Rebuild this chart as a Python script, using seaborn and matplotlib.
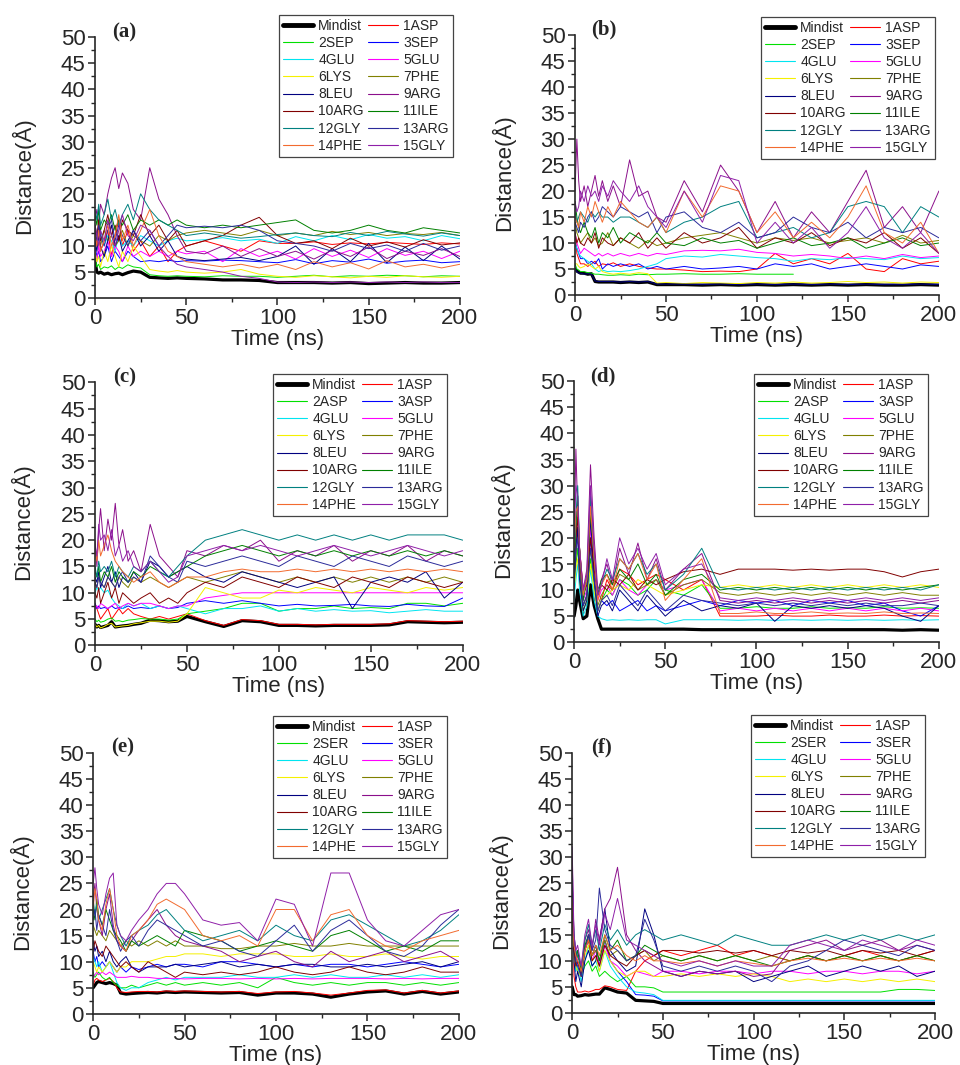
import numpy as np
import pandas as pd
import matplotlib
matplotlib.use("Agg")
import matplotlib.pyplot as plt
from matplotlib.lines import Line2D
from matplotlib.ticker import MultipleLocator
import seaborn as sns

nan = np.nan

# time grid (ns) the values below were read at
time_ns = [0, 1, 2, 3, 5, 7, 9, 11, 13, 15, 18, 21, 25, 30, 35, 40, 45, 50,
           60, 70, 80, 90, 100, 110, 120, 130, 140, 150, 160, 170, 180, 190, 200]

names_sep = ["Mindist", "1ASP", "2SEP", "3SEP", "4GLU", "5GLU", "6LYS", "7PHE",
             "8LEU", "9ARG", "10ARG", "11ILE", "12GLY", "13ARG", "14PHE", "15GLY"]
names_asp = ["Mindist", "1ASP", "2ASP", "3ASP", "4GLU", "5GLU", "6LYS", "7PHE",
             "8LEU", "9ARG", "10ARG", "11ILE", "12GLY", "13ARG", "14PHE", "15GLY"]
names_ser = ["Mindist", "1ASP", "2SER", "3SER", "4GLU", "5GLU", "6LYS", "7PHE",
             "8LEU", "9ARG", "10ARG", "11ILE", "12GLY", "13ARG", "14PHE", "15GLY"]

# Origin-like colour list (black, red, green, blue, cyan, magenta, yellow, dark yellow,
# navy, purple, wine, olive, dark cyan, royal, orange, violet)
line_colors = ["#000000", "#FF0000", "#00E000", "#0000FF", "#00E5F0", "#FF00FF",
               "#F5F000", "#808000", "#000080", "#8B0F8B", "#800000", "#008000",
               "#008080", "#2B2B9A", "#F26B2F", "#8F1FA8"]

# panel (a)
dist_a = [
    [7, 5, 4.8, 5, 4.6, 4.8, 4.5, 4.7, 4.8, 4.5, 4.9, 5.2, 5.0, 4.0, 3.9, 3.8, 3.9, 3.8, 3.7, 3.5, 3.5, 3.4, 3.0, 3.0, 3.0, 2.9, 3.0, 2.8, 2.9, 3.0, 2.9, 2.9, 3.0],
    [12, 10, 14, 9, 11, 13, 8, 12, 15, 10, 13, 9, 11, 8, 10, 7, 9, 10, 11, 10, 9, 11, 10.5, 10.5, 10.8, 10.3, 10.6, 10.4, 10.7, 10.5, 10.3, 10.6, 10.4],
    [8, 6, 6.5, 5.5, 6, 5.8, 6.2, 5.5, 6, 5.7, 6.4, 6, 5.8, 4.5, 4.3, 4.2, 4.3, 4.2, 4.1, 4.3, 4.2, 4.2, 4.0, 4.2, 4.4, 4.1, 4.3, 4.2, 4.4, 4.3, 4.1, 4.3, 4.2],
    [10, 8, 9, 7, 8, 10, 7, 9, 8, 7, 9, 8, 7, 7.2, 7, 7.3, 7, 7.2, 7.1, 7.3, 7.2, 7, 6.8, 7.4, 6.6, 7.2, 6.9, 7.5, 6.7, 7.1, 7.3, 6.8, 7],
    [14, 12, 11, 13, 10, 12, 11, 9, 12, 10, 11, 10, 12, 11, 10, 11, 11.5, 11, 11.2, 11.6, 11, 11.3, 10.5, 11.8, 11, 12, 11.2, 12.2, 11.5, 11.8, 11, 12, 11.4],
    [9, 7, 10, 8, 9, 11, 8, 10, 9, 7, 10, 8, 9, 8, 9, 8, 9, 8.5, 9, 7, 9.5, 8, 9, 7.5, 9.5, 8, 9.2, 7.8, 9.5, 8.2, 9, 7.6, 9],
    [9, 7, 8, 6, 9, 7, 10, 8, 6, 9, 7, 10, 8, 5.5, 5.2, 5, 5.3, 5, 4.8, 5, 5.5, 4.6, 4.2, 4, 4.3, 4.1, 3.9, 4.2, 4, 4.3, 4.1, 4, 4.2],
    [13, 11, 12, 10, 13, 11, 12, 10, 11, 13, 10, 12, 11, 10, 12, 11, 12, 12.5, 13, 12.5, 12, 13, 12, 12.5, 12, 12.8, 12.2, 12.6, 12, 12.4, 12.2, 12.6, 12],
    [11, 9, 12, 10, 8, 11, 14, 10, 12, 9, 11, 13, 10, 12, 9, 11, 8, 7.5, 7.2, 7.5, 7.8, 7.2, 8, 10, 6.5, 9.5, 7, 10.5, 6.8, 9.8, 7.2, 10, 7.5],
    [15, 17, 14, 18, 16, 20, 23, 25, 21, 24, 22, 17, 15, 25, 19, 16, 12, 9, 8.5, 10, 8, 9.5, 8, 9, 7.5, 9.2, 8, 9.8, 7.6, 9, 8.2, 9.5, 8],
    [14, 12, 15, 11, 13, 16, 12, 14, 11, 15, 13, 12, 16, 12, 14, 11, 13, 10, 11, 12, 14, 15.5, 12, 10.5, 11, 9.5, 11.5, 10, 10.8, 9.8, 11.2, 10.2, 10.6],
    [16, 14, 17, 13, 15, 14, 16, 13, 15, 14, 16, 13, 15, 14, 15, 14, 15, 14, 13.5, 14, 13.5, 14, 14.5, 15, 13, 12.5, 13, 14, 13, 12.5, 13.5, 13, 12.5],
    [17, 15, 18, 14, 16, 19, 15, 17, 14, 16, 18, 15, 20, 17, 15, 14, 13, 12, 12.5, 12, 11.5, 11.8, 12.2, 12.5, 12, 11.8, 12.6, 12, 12.8, 12.3, 11.9, 12.5, 12],
    [13, 11, 14, 12, 10, 13, 15, 11, 14, 12, 10, 13, 11, 13, 10, 12, 14, 13.5, 13.8, 13.5, 14, 13, 11, 10.5, 10, 9, 10.5, 9.5, 10.2, 9, 10.5, 9.2, 10],
    [12, 10, 13, 9, 11, 14, 10, 12, 16, 11, 14, 10, 13, 17, 12, 9, 8, 7, 6.5, 6, 6.5, 5.8, 6.5, 5.5, 7, 6, 6.8, 5.6, 7.2, 6, 6.5, 5.8, 6.5],
    [14, 12, 10, 13, 11, 15, 12, 10, 13, 16, 12, 11, 14, 13, 10, 8, 6.5, 6, 5.5, 5, 4.2, 3.8, 3.1, 3.0, 3.1, 3.0, 3.1, 3.0, 3.1, 3.0, 3.1, 3.0, 3.0],
]

# panel (b)
dist_b = [
    [5, 4.6, 4.4, 4.2, 4.2, 4.0, 4.1, 2.6, 2.5, 2.5, 2.5, 2.5, 2.4, 2.5, 2.4, 2.5, 2.0, 2.0, 2.0, 1.9, 2.0, 1.9, 2.0, 1.9, 2.0, 1.9, 2.0, 1.9, 2.0, 1.9, 1.9, 2.0, 1.9],
    [12, 8, 7, 6, 6, 5.5, 6, 6.5, 5.5, 6, 5.8, 6.2, 5.5, 6, 5.5, 5.2, 5, 5, 4.8, 4.5, 4.6, 4.5, 5, 8, 6, 7, 6, 8, 5, 4.5, 7, 6, 6.5],
    [6, 5, 4.8, 4.5, 4.5, 4.3, 4.2, 4.0, 4.0, 3.9, 3.8, 3.8, 3.9, 3.8, 4.0, 3.9, 4.0, 4.0, 4.1, 4.0, 4.0, 4.1, 4.0, 4.0, 4.0, nan, nan, nan, nan, nan, nan, nan, nan],
    [10, 9, 8, 7, 7, 6, 6.5, 6, 7, 5, 6, 5.5, 6, 5.5, 6, 5, 5.5, 5, 5.5, 5, 5.2, 5.5, 5, 6, 5.5, 6, 5, 5.5, 6, 5.5, 5, 5.8, 5.5],
    [10, 9, 8, 7.5, 7, 6.5, 6, 5, 4.5, 4.8, 4.5, 4.6, 4.5, 4.7, 5, 5.5, 6, 7, 7.5, 7.3, 7.8, 7.5, 7.2, 7, 6.5, 7, 6.8, 7.2, 7, 6.8, 7.5, 7, 7.2],
    [12, 10, 9, 8, 9, 8.5, 8, 7.5, 8, 7.5, 8, 7.5, 8, 7.5, 8, 7.5, 8, 7.8, 8.5, 8.6, 8.5, 8.8, 8.2, 8, 7.5, 7.8, 7.5, 7, 7.5, 7, 7.8, 7.2, 7.5],
    [6, 6, 5.5, 5.2, 5.5, 6, 5.5, 5, 5.5, 4.5, 4.2, 4.0, 4.2, 4.0, 4.3, 4.1, 2.3, 2.4, 2.2, 2.4, 2.3, 2.2, 2.4, 2.3, 2.5, 2.3, 2.4, 2.6, 2.4, 2.5, 2.3, 2.5, 2.4],
    [14, 12, 11, 10, 11, 12, 10, 11, 9.5, 10, 12, 9.5, 11, 10, 9, 10.5, 9.5, 10, 11, 11.5, 12, 11, 10, 11, 10.5, 11, 10, 10.5, 11, 10, 11.5, 10, 10.5],
    [5, 4.5, 4.2, 4.2, 4, 4.1, 4.0, 2.7, 2.6, 2.6, 2.6, 2.6, 2.5, 2.6, 2.5, 2.6, 2.1, 2.1, 2.1, 2.0, 2.1, 2.0, 2.1, 2.0, 2.1, 2.0, 2.1, 2.0, 2.1, 2.0, 2.0, 2.1, 2.0],
    [20, 30, 22, 18, 21, 17, 20, 23, 19, 22, 18, 21, 17, 26, 19, 20, 15, 14, 22, 16, 25, 20, 12, 18, 11, 16, 12, 18, 24, 13, 17, 12, 20],
    [12, 10, 11, 10, 9.5, 11, 10, 12, 9, 11, 10, 9.5, 11, 10, 12, 9, 11, 9, 12, 10, 11, 13, 9, 11, 10, 12, 9.5, 11, 10, 12, 9, 11, 8],
    [18, 15, 13, 12, 14, 12, 11, 13, 10, 12, 11, 13, 10, 12, 11, 10, 12, 10, 9.5, 11, 10, 10.5, 9, 10, 11, 9.5, 10, 11, 9, 10, 11, 9.5, 10],
    [16, 14, 15, 16, 15, 14, 16, 15, 16, 15, 15, 14, 15, 15, 14, 13, 15, 12, 14, 15, 17, 18, 11, 12, 13, 11, 12, 17, 18, 17, 12, 17, 15],
    [14, 13, 12, 14, 13, 15, 16, 14, 15, 17, 16, 15, 17, 16, 15, 16, 12, 15, 16, 13, 12, 14, 11, 12, 15, 13, 12, 14, 11, 13, 12, 13, 11],
    [15, 14, 13, 16, 14, 17, 15, 18, 16, 14, 17, 15, 18, 16, 14, 13, 15, 12, 20, 15, 21, 20, 12, 16, 11, 14, 11, 15, 21, 12, 10, 14, 8],
    [18, 16, 17, 20, 18, 21, 19, 20, 18, 21, 19, 22, 20, 18, 21, 17, 15, 13, 20, 14, 23, 22, 10, 14, 10, 13, 9, 12, 17, 11, 9, 12, 8],
]

# panel (c)
dist_c = [
    [4, 3.5, 3.8, 3.4, 3.6, 3.8, 4.5, 3.5, 3.6, 3.7, 3.8, 4, 4.2, 4.8, 4.7, 4.5, 4.6, 5.5, 4.5, 3.6, 4.7, 4.5, 3.8, 3.8, 3.7, 3.8, 3.8, 3.8, 3.9, 4.5, 4.4, 4.3, 4.4],
    [8, 7, 6, 5, 6, 7, 5, 6, 7, 6, 7, 6, 5.5, 5, 5.5, 5, 5.5, 6, 4.7, 3.8, 4.9, 4.7, 4.0, 4.0, 3.9, 4.0, 4.0, 4.0, 4.1, 4.7, 4.6, 4.5, 4.6],
    [5, 4.5, 4.8, 4.4, 4.6, 5, 5.2, 4.6, 4.7, 4.5, 4.8, 4.9, 5.1, 5, 5, 4.8, 5, 6, 6.5, 7, 8, 8, 6.5, 7, 7, 7.5, 7, 7.2, 7, 8, 8, 7.5, 8],
    [8, 7, 7.5, 7, 7.2, 7, 7.5, 7, 7.2, 7, 7.5, 7, 7.2, 7, 7.5, 7, 7.2, 8, 8.5, 8, 8.5, 8, 7.5, 7.8, 7.5, 7.6, 7.8, 7.5, 7.4, 7.8, 7.5, 7.4, 9],
    [10, 11, 10.5, 11, 10, 10.5, 9, 8, 7.5, 7, 8, 7.5, 8, 7, 7.5, 7, 7.5, 7, 6, 7, 7, 7.5, 6.5, 7, 6.5, 6.8, 6.5, 6.6, 6.2, 6.5, 6.8, 6.5, 6.5],
    [7, 7.5, 7, 8, 7.5, 7, 7.5, 8, 7, 7.5, 8, 7.5, 8, 8, 7.5, 7, 7.5, 7.5, 9, 9.5, 10, 10, 10, 10, 10, 10, 10, 10, 10, 10, 10, 10, 10],
    [4, 3.5, 3.8, 3.3, 3.6, 4, 4.2, 3.5, 3.6, 3.7, 3.8, 4.1, 4.3, 4.6, 4.6, 4.4, 4.6, 6, 11, 10, 9, 9, 10.5, 10, 11, 10.5, 10, 11, 10.5, 10, 11, 10.5, 11],
    [12, 11, 13, 12, 11, 13, 12, 11, 13, 12, 11, 13, 12, 13, 12, 11, 12, 13, 12, 13, 14, 13, 12, 13, 12, 13, 12, 13, 12, 13, 12, 13, 12],
    [13, 12, 14, 11, 13, 15, 12, 14, 11, 13, 12, 14, 12, 16, 15, 13, 14, 15, 13, 12, 14, 13, 12, 11, 12, 13, 7, 12, 13, 12, 14, 9, 12],
    [20, 15, 22, 26, 18, 24, 20, 27, 19, 22, 16, 18, 14, 23, 17, 15, 13, 18, 17, 19, 18, 20, 16, 18, 17, 19, 16, 18, 17, 19, 16, 18, 17],
    [10, 9, 11, 8, 10, 12, 9, 11, 8, 10, 9, 8, 9, 10, 8, 9, 8, 10, 12, 11, 13, 12, 11, 13, 12, 11, 13, 12, 11, 13, 12, 11, 12],
    [14, 13, 15, 12, 14, 13, 15, 12, 14, 13, 12, 14, 13, 15, 14, 13, 14, 15, 17, 18, 19, 18, 17, 18, 17, 18, 17, 18, 17, 18, 17, 18, 17],
    [15, 13, 16, 14, 15, 14, 16, 13, 15, 14, 13, 15, 14, 16, 14, 13, 15, 17, 20, 21, 22, 21, 20, 21, 20, 21, 20, 21, 20, 21, 21, 21, 20],
    [12, 11, 13, 12, 11, 13, 12, 11, 13, 14, 12, 13, 12, 17, 15, 13, 12, 16, 15, 16, 17, 16, 15, 17, 16, 15, 17, 16, 15, 17, 16, 15, 16],
    [18, 16, 20, 17, 19, 21, 18, 16, 15, 14, 13, 12, 13, 14, 12, 11, 12, 13, 13, 14, 14.5, 14, 14, 14.5, 14, 14.5, 14, 14.5, 14, 14.5, 14, 14.5, 14],
    [19, 17, 23, 20, 21, 18, 22, 17, 19, 16, 18, 15, 14, 16, 14, 12, 13, 17, 18, 19, 18, 19, 18, 17, 18, 19, 18, 17, 18, 19, 18, 17, 18],
]

# panel (d)
dist_d = [
    [5, 7, 10, 8, 4.5, 5, 11, 7, 4.5, 2.5, 2.5, 2.5, 2.5, 2.5, 2.5, 2.5, 2.5, 2.5, 2.5, 2.4, 2.4, 2.4, 2.4, 2.4, 2.4, 2.4, 2.4, 2.4, 2.4, 2.4, 2.3, 2.4, 2.3],
    [15, 20, 25, 18, 10, 12, 20, 15, 10, 8, 12, 10, 14, 13, 11, 12, 13, 12, 10, 12, 5, 5, 5, 5.2, 5, 5, 5.2, 5, 5, 5.2, 5, 5.1, 5],
    [10, 15, 18, 12, 6, 8, 16, 10, 6, 8, 10, 9, 12, 11, 9, 10, 12, 10, 9, 11, 6.5, 6.5, 6.8, 6.5, 6.5, 6.8, 6.5, 6.6, 6.5, 6.8, 6.5, 6.6, 6.5],
    [12, 18, 20, 14, 7, 9, 20, 12, 6, 8, 7, 8, 6, 7, 8, 6, 7, 6, 7, 8, 7, 8, 7.5, 8, 7, 8, 7.5, 8, 7, 7.5, 6, 5, 7],
    [8, 12, 15, 10, 5, 7, 14, 8, 5, 4.5, 4.2, 4.3, 4.2, 4.3, 4.2, 4.3, 4.3, 3.5, 4.3, 4.3, 4.3, 4.2, 4.3, 4.2, 4.3, 4.2, 4.3, 4.2, 4.3, 4.2, 4.3, 4.2, 4.3],
    [14, 20, 24, 16, 8, 10, 22, 14, 8, 10, 11, 9, 12, 10, 9, 11, 12, 10, 11, 12, 6, 6.5, 6, 6.5, 6, 6.5, 6, 6.5, 6, 6.5, 6, 6.5, 6],
    [10, 14, 16, 12, 6, 8, 15, 10, 6, 8, 9, 10, 11, 10, 12, 11, 10, 9, 10, 11, 10.5, 11, 10.5, 11, 10.5, 11, 10.5, 11, 10.5, 11, 10.5, 11, 10.5],
    [12, 16, 22, 14, 7, 9, 18, 12, 7, 9, 11, 10, 13, 12, 10, 11, 12, 9, 11, 12, 9.5, 9, 9.5, 9, 9.5, 9, 9.5, 9, 9.5, 9, 9.5, 9, 9],
    [10, 18, 22, 12, 6, 8, 24, 12, 5, 7, 8, 6, 10, 8, 6, 9, 7, 5, 8, 6, 7, 6.5, 7.5, 4, 7, 6.5, 7, 6.5, 7, 6.5, 5, 4, 7],
    [20, 37, 25, 18, 10, 14, 34, 20, 10, 12, 15, 11, 18, 13, 19, 12, 16, 10, 14, 17, 8, 7.5, 8, 7.5, 8, 7.5, 8, 7.5, 8, 7.5, 8, 7.5, 8],
    [14, 20, 24, 16, 9, 11, 20, 14, 9, 11, 10, 12, 11, 13, 10, 12, 11, 12, 13.5, 14, 13, 14, 14, 14, 13.8, 14, 13.8, 14, 14, 13.5, 12.5, 13.5, 14],
    [15, 22, 28, 18, 8, 12, 25, 16, 9, 12, 13, 11, 14, 12, 15, 11, 13, 9, 12, 13, 10, 10.5, 10, 10.5, 10, 10.5, 10, 10.5, 10, 10.5, 10, 10.5, 11],
    [16, 24, 30, 18, 9, 12, 28, 16, 9, 11, 14, 12, 16, 14, 17, 13, 15, 10, 13, 18, 10.5, 10, 10.5, 10, 10.5, 10, 10.5, 10, 10.5, 10, 10.5, 10, 11],
    [12, 18, 20, 13, 7, 9, 18, 12, 6, 8, 9, 7, 11, 9, 7, 10, 8, 6, 9, 8, 7.5, 7, 7.5, 7, 7.5, 7, 7.5, 7, 7.5, 7, 7, 7.5, 7],
    [18, 25, 26, 18, 9, 12, 26, 16, 8, 11, 13, 10, 16, 14, 17, 12, 15, 8, 12, 16, 5.5, 5.5, 5.8, 5.5, 5.5, 5.8, 5.5, 5.6, 5.5, 5.8, 5.5, 5.6, 5.5],
    [20, 30, 28, 18, 10, 13, 30, 18, 9, 11, 16, 12, 20, 15, 18, 14, 17, 11, 14, 15, 8.5, 8, 8.5, 8, 8.5, 8, 8.5, 8, 8.5, 8, 8.5, 8, 8.5],
]

# panel (e)
dist_e = [
    [5, 5.5, 6, 6.2, 6, 5.8, 6, 5.8, 5.5, 4, 3.8, 3.9, 4, 4.1, 4, 4.2, 4.1, 4.2, 4.1, 4, 4.1, 3.6, 4, 4, 3.8, 3.2, 3.8, 4.2, 4.4, 3.8, 4.3, 3.8, 4.2],
    [5.5, 6.5, 6.8, 6.5, 6.2, 6.5, 6.8, 6.2, 5, 4.2, 4.1, 4.2, 4.3, 4.3, 4.2, 4.4, 4.3, 4.4, 4.3, 4.2, 4.3, 3.9, 4.2, 4.3, 4.0, 3.6, 4, 4.5, 4.6, 4, 4.5, 4, 4.4],
    [8, 7, 7.5, 8, 7, 6.5, 7, 6, 5.5, 5, 5, 5.5, 5, 5.5, 6, 5.5, 6, 5.5, 6, 5.5, 6, 5, 7, 6, 5.5, 6, 5.5, 6, 6, 5.5, 6, 5.5, 6],
    [12, 10, 11, 9, 10, 9, 10, 9, 8, 9, 8, 9, 8.5, 9, 9.5, 9, 9.5, 9.5, 9, 10, 10, 9.5, 9, 9.5, 9, 9.5, 9.5, 9, 9.5, 10, 9.5, 9, 9.5],
    [11, 10, 9, 10, 8, 9, 10, 8, 6, 5, 4.5, 5, 5, 6, 6.5, 7, 6.5, 7, 7, 7, 7.5, 7, 7, 7.5, 7, 7.5, 7, 7, 7.5, 7, 7.5, 7, 7.5],
    [7, 7.5, 8, 7.5, 8, 7.5, 8, 7.5, 7, 7, 7, 7.2, 7, 7, 6.8, 6.8, 6.8, 6.7, 6.8, 6.8, 6.7, 6.8, 6.7, 6.8, 6.7, 6.8, 6.8, 6.8, 6.7, 6.8, 6.7, 6.8, 6.8],
    [10, 9, 8, 9, 8, 9, 10, 9, 8, 9, 9, 10, 10, 10, 10.5, 11, 11, 11.5, 11.5, 11, 11.5, 11.5, 11.5, 11, 11, 11.5, 11, 11, 11.5, 11, 10.5, 11, 11],
    [17, 16, 15, 16, 15, 14, 16, 15, 14, 13, 14, 13, 14, 13, 14, 13, 14, 13, 13, 12.5, 12.5, 13, 13, 13.5, 13, 13, 13.5, 13, 13, 13, 13, 13, 13],
    [14, 12, 13, 11, 12, 10, 12, 10, 9, 10, 11, 9, 8, 9, 9, 9, 9.5, 9, 9.5, 10, 9, 9.5, 9, 9.5, 9.5, 9, 9, 9.5, 9, 9.5, 10, 9, 10],
    [22, 25, 20, 18, 15, 20, 23, 17, 14, 13, 12, 14, 16, 18, 20, 17, 15, 14, 13, 12, 10, 11, 12, 10, 9, 12, 10, 11, 12, 10, 11, 12, 10],
    [12, 14, 13, 12, 11, 13, 12, 11, 10, 9, 10, 9, 8, 10, 9, 8, 7, 8, 7.5, 8, 7.5, 8, 9, 8, 7.5, 8, 9, 8, 7.5, 8, 9, 8, 8],
    [20, 18, 22, 19, 17, 20, 18, 16, 15, 14, 12, 14, 13, 14, 15, 14, 13, 16, 15, 14, 12, 13, 14, 13, 12, 15, 16, 14, 12, 13, 12, 14, 14],
    [22, 19, 21, 18, 20, 22, 24, 20, 17, 15, 13, 15, 16, 17, 19, 20, 18, 16, 14, 15, 16, 14, 17, 15, 14, 18, 19, 17, 15, 13, 14, 16, 19],
    [18, 20, 16, 19, 17, 15, 20, 16, 14, 12, 14, 15, 13, 16, 18, 17, 16, 15, 13, 14, 12, 11, 14, 17, 12, 16, 18, 15, 12, 11, 13, 17, 20],
    [20, 24, 22, 18, 16, 21, 24, 20, 15, 13, 12, 15, 16, 18, 21, 22, 21, 20, 15, 14, 15, 13, 20, 20, 14, 19, 20, 15, 13, 12, 14, 15, 16],
    [25, 28, 24, 21, 19, 23, 26, 27, 17, 15, 14, 16, 18, 20, 23, 25, 25, 23, 18, 17, 17.5, 14, 22, 21, 13, 27, 27, 18, 14, 13, 16, 19, 20],
]

# panel (f)
dist_f = [
    [5, 3.5, 3.5, 3.2, 3.3, 3.5, 3.4, 3.5, 3.6, 3.6, 4.8, 4.5, 4.0, 3.8, 2.4, 2.3, 2.2, 1.8, 1.8, 1.8, 1.8, 1.8, 1.8, 1.8, 1.8, 1.8, 1.8, 1.8, 1.8, 1.8, 1.8, 1.8, 1.8],
    [28, 7, 5, 4, 4, 4.2, 4, 4.2, 4.5, 4.5, 5.2, 5, 4.5, 4.3, 8, 10, 11, 12, 11, 12, 13, 11, 12, 11, 10, 11, 10, 11, 12, 11, 10, 11, 12],
    [20, 14, 10, 8, 7, 9, 10, 8, 9, 7, 8, 7, 6, 7, 5, 5, 4.8, 4, 4, 4, 4, 4, 4, 4, 4, 4, 4, 4, 4, 4, 4.5, 4.5, 4.3],
    [25, 12, 8, 10, 7, 12, 15, 11, 13, 9, 14, 10, 8, 6, 3.5, 3.4, 3.2, 2.3, 2.3, 2.3, 2.3, 2.3, 2.3, 2.3, 2.3, 2.3, 2.3, 2.3, 2.3, 2.3, 2.3, 2.3, 2.3],
    [22, 10, 8, 9, 6, 10, 13, 9, 10, 8, 12, 9, 7, 5, 4, 3.8, 3.5, 2.4, 2.4, 2.4, 2.4, 2.4, 2.4, 2.4, 2.4, 2.4, 2.4, 2.4, 2.4, 2.4, 2.4, 2.4, 2.4],
    [26, 15, 12, 10, 8, 12, 15, 10, 12, 9, 13, 10, 9, 7, 8, 7.5, 7, 8, 8, 7.5, 8, 8, 7.5, 8, 8, 7.5, 8, 8, 7.5, 8, 8, 7.5, 8],
    [18, 10, 9, 8, 7, 11, 13, 10, 11, 8, 12, 10, 8, 7, 8, 8, 7, 7, 7.5, 7, 7.5, 7, 7.5, 7, 6, 6.5, 6, 6.5, 6, 6.5, 6, 6.5, 6],
    [20, 12, 10, 11, 9, 13, 14, 11, 12, 10, 14, 11, 12, 10, 11, 12, 10, 11, 10, 11, 10, 11, 10, 11, 10, 11, 10, 11, 10, 11, 10, 11, 10],
    [24, 10, 6, 8, 5, 10, 12, 9, 10, 14, 20, 12, 10, 8, 9, 20, 15, 8, 7, 8, 7.5, 8, 6, 7, 8, 9, 7, 8, 9, 8, 9, 7, 8],
    [30, 14, 10, 12, 8, 14, 16, 12, 18, 14, 20, 22, 28, 15, 12, 10, 9, 8, 7, 8, 7.5, 8, 7, 7.5, 12, 13, 14, 12, 13, 14, 12, 13, 12],
    [22, 12, 9, 10, 7, 12, 14, 10, 11, 9, 13, 11, 10, 9, 11, 12, 11, 12, 12, 11.5, 12, 11.5, 12, 11, 12, 11.5, 12, 11, 12, 11.5, 12, 11, 12],
    [24, 13, 11, 12, 8, 13, 15, 11, 13, 10, 15, 12, 14, 10, 11, 13, 12, 11, 10, 11, 10, 11, 10, 9, 10, 11, 10, 11, 10, 11, 10, 11, 10],
    [26, 15, 12, 11, 9, 14, 17, 13, 16, 12, 17, 14, 16, 13, 15, 16, 15, 14, 15, 14, 13, 15, 14, 13, 13, 14, 15, 14, 15, 14, 15, 14, 15],
    [25, 14, 10, 9, 7, 12, 15, 12, 14, 24, 16, 13, 12, 10, 11, 18, 14, 9, 8, 9, 8, 9, 8, 6, 9, 10, 12, 14, 13, 12, 11, 13, 12],
    [22, 13, 11, 10, 8, 12, 14, 11, 13, 11, 15, 12, 13, 11, 10, 11, 10, 10, 9.5, 10, 9, 10, 9.5, 9, 10, 10.5, 10, 10.5, 10, 10.5, 10, 10.5, 10],
    [32, 15, 12, 13, 9, 15, 18, 13, 17, 13, 19, 16, 22, 14, 13, 12, 11, 10, 9, 10, 9, 10, 9, 9, 13, 14, 13, 12, 14, 13, 12, 14, 13],
]

panels = [
    # tag, names, values, axes rect (fig fraction), legend top-right (px)
    ("(a)", names_sep, dist_a, [0.099, 0.720, 0.380, 0.245], (453, 15)),
    ("(b)", names_sep, dist_b, [0.599, 0.723, 0.379, 0.244], (935, 17)),
    ("(c)", names_asp, dist_c, [0.099, 0.394, 0.383, 0.247], (447, 374)),
    ("(d)", names_asp, dist_d, [0.598, 0.397, 0.380, 0.245], (928, 374)),
    ("(e)", names_ser, dist_e, [0.097, 0.048, 0.381, 0.245], (447, 716)),
    ("(f)", names_ser, dist_f, [0.596, 0.049, 0.378, 0.244], (925, 715)),
]

W, H = 960, 1065

sns.set_style("ticks")
plt.rcParams["font.family"] = ["Liberation Sans", "DejaVu Sans"]
plt.rcParams["axes.linewidth"] = 1.2

fig = plt.figure(figsize=(W / 100, H / 100), dpi=100)

for tag, names, values, rect, (lx, ly) in panels:
    ax = fig.add_axes(rect)

    rows = []
    for name, series in zip(names, values):
        for t, d in zip(time_ns, series):
            rows.append({"time": t, "dist": d, "res": name})
    df = pd.DataFrame(rows)

    widths = {n: 0.7 for n in names}
    widths["Mindist"] = 2.3
    sns.lineplot(data=df, x="time", y="dist", hue="res", hue_order=names,
                 palette=line_colors, size="res", sizes=widths, size_order=names,
                 estimator=None, sort=False, legend=False, ax=ax)

    ax.set_xlim(0, 200)
    ax.set_ylim(0, 50)
    ax.xaxis.set_major_locator(MultipleLocator(50))
    ax.xaxis.set_minor_locator(MultipleLocator(25))
    ax.yaxis.set_major_locator(MultipleLocator(5))
    ax.yaxis.set_minor_locator(MultipleLocator(2.5))
    ax.tick_params(which="major", direction="out", length=5, width=1.1,
                   labelsize=16, pad=2)
    ax.tick_params(which="minor", direction="out", length=3, width=1)
    sns.despine(ax=ax)

    ax.set_xlabel("Time (ns)", fontsize=16, labelpad=0)
    ax.set_ylabel("Distance(Å)", fontsize=16)
    ax.yaxis.set_label_coords(-0.165, 0.47)

    ax.text(0.08, 1.02, tag, transform=ax.transAxes, ha="center", va="center",
            fontsize=15, fontweight="bold", family="Liberation Serif")

    # legend filled row by row like the original
    handles = []
    for i, name in enumerate(names):
        lw = 3.5 if name == "Mindist" else 0.8
        handles.append(Line2D([0], [0], color=line_colors[i], lw=lw))
    order = list(range(0, 16, 2)) + list(range(1, 16, 2))
    leg = ax.legend([handles[i] for i in order], [names[i] for i in order],
                    ncol=2, loc="upper right",
                    bbox_to_anchor=(lx / W, 1 - ly / H),
                    bbox_transform=fig.transFigure,
                    fontsize=10, frameon=True, fancybox=False, framealpha=1,
                    edgecolor="#444444", borderpad=0.3, labelspacing=0.22,
                    handlelength=2.2, handletextpad=0.35, columnspacing=0.3,
                    borderaxespad=0)
    leg.get_frame().set_linewidth(0.9)

plt.savefig("out.png", dpi=100)
